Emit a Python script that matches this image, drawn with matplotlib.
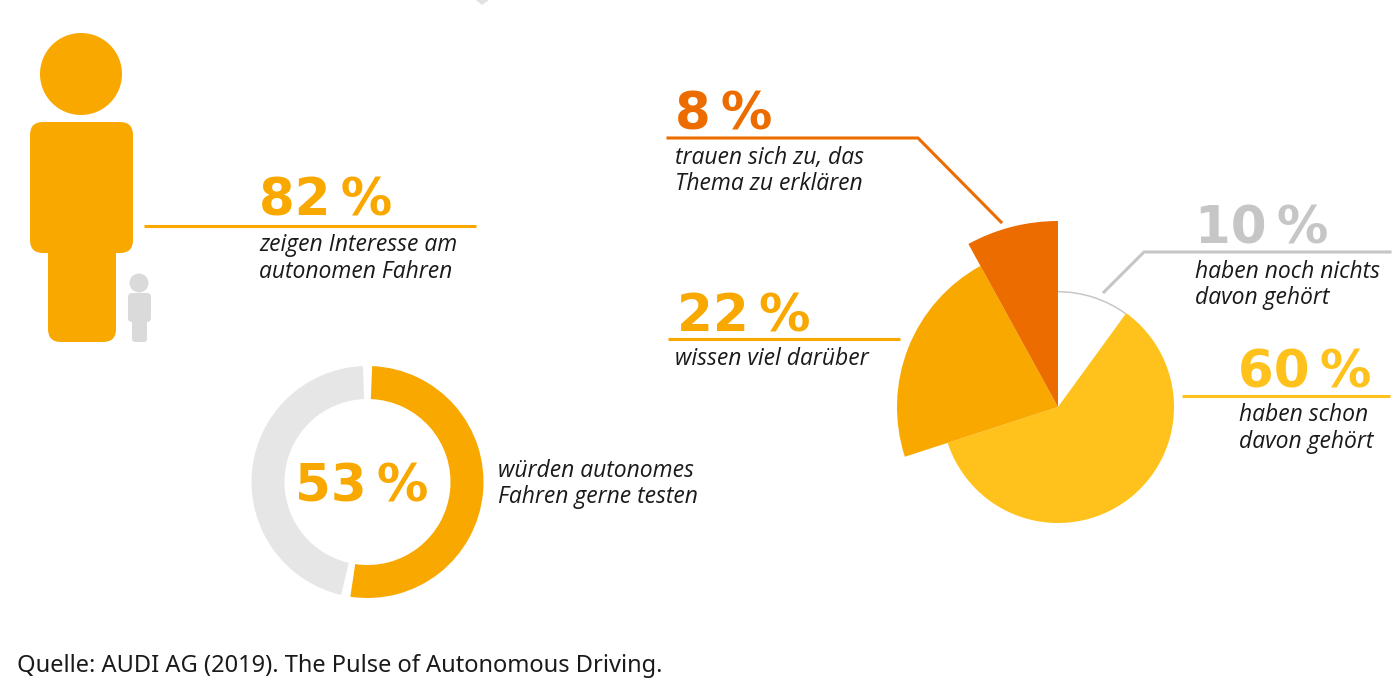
## Audi autonomous driving infographic
import matplotlib
matplotlib.use('Agg')
import numpy as np
import matplotlib.pyplot as plt
from matplotlib.patches import Wedge, Circle, FancyBboxPatch, Polygon

# data
pie_values = [10, 60, 22, 8]
pie_radius = [116, 116, 161, 186]
pie_colors = ['white', '#FFC21C', '#F9A800', '#EC6C00']
pie_labels = ['10\u2009%', '60\u2009%', '22\u2009%', '8\u2009%']
donut_values = [53, 47]
donut_colors = ['#F9A800', '#E6E6E6']
interest_label = '82\u2009%'
donut_label = '53\u2009%'
source = 'Quelle: AUDI AG (2019). The Pulse of Autonomous Driving.'

ORANGE = '#F9A800'
DARK = '#EC6C00'
YELLOW = '#FFC21C'
GREY = '#C6C6C6'
LIGHT = '#DADADA'
TXT = '#1a1a1a'

fig = plt.figure(figsize=(14, 7), dpi=100)
ax = fig.add_axes([0, 0, 1, 1])
ax.set_xlim(0, 1400)
ax.set_ylim(700, 0)  # pixel coords, y down
ax.axis('off')


def rounded(x0, y0, x1, y1, r, color, z=2):
    ax.add_patch(FancyBboxPatch((x0 + r, y0 + r), x1 - x0 - 2*r, y1 - y0 - 2*r,
                                boxstyle=f'round,pad={r},rounding_size={r}',
                                fc=color, ec='none', zorder=z))


def number(x, y, s, color):
    ax.text(x, y, s, color=color, fontsize=37, fontweight='bold', family='DejaVu Sans',
            ha='left', va='baseline')


def label(x, y, s):
    ax.text(x, y, s, color=TXT, fontsize=16.5, style='italic', family='Open Sans',
            ha='left', va='baseline')


# person
ax.add_patch(Circle((81, 74), 41, fc=ORANGE, ec='none'))
rounded(48, 200, 116, 342, 13, ORANGE)
rounded(30, 122, 133, 253, 13, ORANGE)
# small person
ax.add_patch(Circle((139, 283), 9.5, fc=LIGHT, ec='none'))
rounded(132, 300, 147, 342, 3, LIGHT)
rounded(128, 293, 151, 322, 4, LIGHT)

# 82 %
number(259, 216, interest_label, ORANGE)
ax.plot([144, 476], [225.5, 225.5], color=ORANGE, lw=2.2, solid_capstyle='butt')
label(259, 251, 'zeigen Interesse am')
label(259, 278, 'autonomen Fahren')

# donut, gap between arcs
donut_c = (367.5, 482)
gap = 2.3
a0 = 0
for v, c in zip(donut_values, donut_colors):
    a1 = a0 + v / sum(donut_values) * 360
    ax.add_patch(Wedge(donut_c, 116, -90 + a0 + gap, -90 + a1 - gap, width=33, fc=c, ec='none'))
    a0 = a1
number(295, 501, donut_label, ORANGE)
label(498, 477, 'würden autonomes')
label(498, 503, 'Fahren gerne testen')

# exploded-radius pie, clockwise from top
pie_c = (1058, 407)
a0 = 0
for v, r, c in zip(pie_values, pie_radius, pie_colors):
    a1 = a0 + v / sum(pie_values) * 360
    ax.add_patch(Wedge(pie_c, r, -90 + a0, -90 + a1, fc=c, ec='none', zorder=2))
    if c == 'white':
        # thin grey rim on the empty slice
        ax.add_patch(Wedge(pie_c, r, -90 + a0, -90 + a1, width=1.5, fc=GREY, ec='none', zorder=3))
    a0 = a1

# callouts
ax.plot([668, 918, 1001], [138, 138, 222], color=DARK, lw=2.2, solid_joinstyle='miter')
number(675, 130, pie_labels[3], DARK)
label(675, 164, 'trauen sich zu, das')
label(675, 190, 'Thema zu erklären')

ax.plot([668, 900], [338.5, 338.5], color=ORANGE, lw=2.2, solid_capstyle='butt')
number(677, 331, pie_labels[2], ORANGE)
label(675, 365, 'wissen viel darüber')

ax.plot([1104, 1144, 1390], [292, 252, 252], color=GREY, lw=2.2, solid_joinstyle='miter')
number(1195, 244, pie_labels[0], GREY)
label(1195, 278, 'haben noch nichts')
label(1195, 304, 'davon gehört')

ax.plot([1182, 1390], [396, 396], color=YELLOW, lw=2.2, solid_capstyle='butt')
number(1238, 388, pie_labels[1], YELLOW)
label(1239, 421, 'haben schon')
label(1239, 448, 'davon gehört')

# cut-off marker at top edge
ax.add_patch(Polygon([[476, 0], [489, 0], [482, 5]], fc='#E2E2E2', ec='none'))

# source
ax.text(17, 672, source, color=TXT, fontsize=17, family='Noto Sans', ha='left', va='baseline')

fig.savefig('out.png', dpi=100)
